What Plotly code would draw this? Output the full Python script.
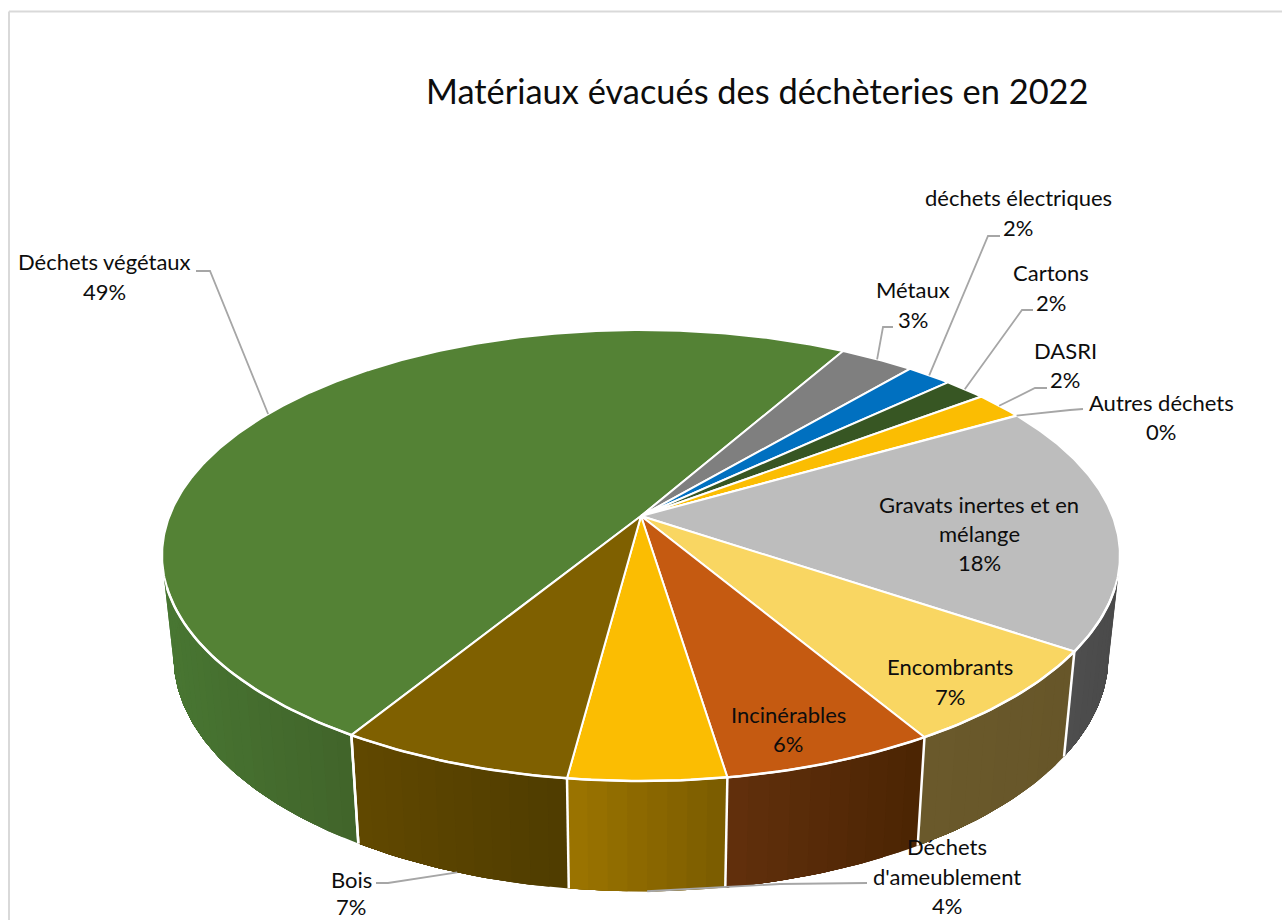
import math
import plotly.graph_objects as go

# ---- data ----
categories = ["Déchets végétaux", "Métaux", "déchets électriques", "Cartons", "DASRI",
              "Autres déchets", "Gravats inertes et en mélange", "Encombrants",
              "Incinérables", "Déchets d'ameublement", "Bois"]
values = [49.47, 2.97, 1.81, 1.69, 1.97, 0.03, 17.75, 7.03, 6.11, 4.49, 6.68]
title_text = "Matériaux évacués des déchèteries en 2022"

# ---- style ----
top_colors = ["#548235", "#7F7F7F", "#0070C0", "#375623", "#FBBD02", "#A5A5A5",
              "#BDBDBD", "#F9D662", "#C55A11", "#FBBD02", "#7F6000"]
wall_left = ["#487632", "#555555", "#004A80", "#24391A", "#9C7400", "#6A6A6A",
             "#4E4E4E", "#6A592B", "#62300C", "#9C7400", "#614800"]
wall_right = ["#41642A", "#555555", "#004A80", "#24391A", "#7A5C00", "#6A6A6A",
              "#4A4A4A", "#675629", "#4B2403", "#7A5C00", "#4F3C00"]
FONT = "Lato"
LABEL_SIZE = 22
TITLE_SIZE = 34.4
LEADER = "#A6A6A6"

# ---- projection of the pie disc ----
CX, CY = 641.0, 516.0
K, C, A = 471.5, 0.1752, -128.2
START = 211.5
SCALE_B, SLOPE_B, SHIFT_B = 0.976, 1.04, 79.0


def rim(deg, r=1.0, base=False):
    t = math.radians(deg)
    u, v = r * math.sin(t), r * math.cos(t)
    d = 1 + C * v
    x, y = K * u / d, (A * v + CY) / d
    if base:
        return CX + x * SCALE_B, SLOPE_B * y + SHIFT_B
    return CX + x, y


def arc(a0, a1, step=1.0, base=False):
    n = max(2, int(abs(a1 - a0) / step) + 1)
    return [rim(a0 + (a1 - a0) * i / (n - 1), base=base) for i in range(n)]


def hex2rgb(h):
    return tuple(int(h[i:i + 2], 16) for i in (1, 3, 5))


def mix(c0, c1, f):
    a, b = hex2rgb(c0), hex2rgb(c1)
    return "rgb(%d,%d,%d)" % tuple(round(a[i] + (b[i] - a[i]) * f) for i in range(3))


total = sum(values)
edges = [START]
for val in values:
    edges.append(edges[-1] + val / total * 360)

fig = go.Figure()


def poly(pts, color, lc=None, lw=0.0, name=None):
    fig.add_trace(go.Scatter(x=[p[0] for p in pts], y=[p[1] for p in pts], mode="lines",
                             fill="toself", fillcolor=color,
                             line=dict(color=lc or color, width=lw),
                             hoverinfo="skip" if name is None else "text", text=name,
                             showlegend=False))


def line(pts, color, width):
    fig.add_trace(go.Scatter(x=[p[0] for p in pts], y=[p[1] for p in pts], mode="lines",
                             line=dict(color=color, width=width), hoverinfo="skip",
                             showlegend=False))


# side wall, split into narrow overlapping strips for the shading
WALL_FROM, WALL_TO, STRIP = 78.0, 282.0, 2.0
for i in range(len(values)):
    a0, a1 = edges[i], edges[i + 1]
    for shift in (-360, 0, 360):
        lo, hi = max(a0 + shift, WALL_FROM), min(a1 + shift, WALL_TO)
        if hi <= lo:
            continue
        n = max(1, int((hi - lo) / STRIP))
        x_lo, x_hi = rim(max(lo, 100))[0], rim(min(hi, 260))[0]
        for j in range(n):
            s0 = lo + (hi - lo) * j / n
            s1 = lo + (hi - lo) * (j + 1) / n
            xm = rim((s0 + s1) / 2)[0]
            # position from left to right on screen
            span = (x_hi - x_lo) or 1
            f = min(1, max(0, (xm - min(x_lo, x_hi)) / abs(span)))
            col = mix(wall_left[i], wall_right[i], f)
            # each strip runs to the far end of the slice; the next one paints over it
            poly(arc(s0, hi, 1) + arc(hi, s0, 1, base=True), col)

# white dividers on the wall
for e in edges:
    e = (e % 360)
    if 108 < e < 252:
        line([rim(e), rim(e, base=True)], "white", 2.5)

# top of the pie
for i, name in enumerate(categories):
    pts = [(CX, CY)] + arc(edges[i], edges[i + 1], 0.5) + [(CX, CY)]
    poly(pts, top_colors[i], lc="white", lw=2.0, name="%s %d%%" % (name, round(values[i])))

# white rim at the front
line(arc(108, 252, 1), "white", 2.5)

# ---- labels and leader lines ----
mid = [(edges[i] + edges[i + 1]) / 2 for i in range(len(values))]
label_place = {
    0: ([(104, 261), (104, 291)], [(196, 271), (210, 271)], False),
    1: ([(913, 289), (913, 319)], [(893, 327), (883, 327)], False),
    2: ([(1018, 197), (1018, 227)], [(1000, 236), (988, 236)], False),
    3: ([(1051, 272), (1051, 302)], [(1033, 310), (1022, 310)], False),
    4: ([(1065, 350), (1065, 379)], [(1047, 388), (1035, 388)], False),
    5: ([(1161, 402), (1161, 431)], [(1083, 409), (1070, 410)], False),
    6: ([(979, 504), (979, 533), (979, 562)], None, False),
    7: ([(950, 666), (950, 696)], None, False),
    8: ([(788, 714), (788, 743)], None, False),
    9: ([(947, 846), (947, 876), (947, 905)], [(867, 883), (780, 884)], True),
    10: ([(351, 879), (351, 906)], [(376, 883), (388, 883)], True),
}
line_breaks = {6: ["Gravats inertes et en", "mélange"], 9: ["Déchets", "d'ameublement"]}

annotations = []
for i, (spots, lead, on_base) in label_place.items():
    lines = line_breaks.get(i, [categories[i]]) + ["%d%%" % round(values[i])]
    for (x, y), txt in zip(spots, lines):
        annotations.append(dict(x=x, y=y, xref="x", yref="y", text=txt, showarrow=False,
                                xanchor="center", yanchor="middle",
                                font=dict(family=FONT, size=LABEL_SIZE, color="#0D0D0D")))
    if lead:
        line(lead + [rim(mid[i], base=on_base)], LEADER, 1.8)

annotations.append(dict(x=757, y=90, xref="x", yref="y", text=title_text, showarrow=False,
                        xanchor="center", yanchor="middle",
                        font=dict(family=FONT, size=TITLE_SIZE, color="#0D0D0D")))

fig.update_layout(
    width=1282, height=920, margin=dict(l=0, r=0, t=0, b=0),
    paper_bgcolor="white", plot_bgcolor="white", showlegend=False,
    xaxis=dict(range=[0, 1282], visible=False, fixedrange=True),
    yaxis=dict(range=[920, 0], visible=False, fixedrange=True),
    annotations=annotations,
    shapes=[
        dict(type="line", xref="x", yref="y", x0=9, x1=9, y0=11.5, y1=920,
             line=dict(color="#D9D9D9", width=2)),
        dict(type="line", xref="x", yref="y", x0=9, x1=1282, y0=11.5, y1=11.5,
             line=dict(color="#D9D9D9", width=2)),
    ],
)

fig.write_html("out.html", config=dict(displayModeBar=False),
               post_script="document.body.style.margin='0';document.body.style.overflow='hidden';")
